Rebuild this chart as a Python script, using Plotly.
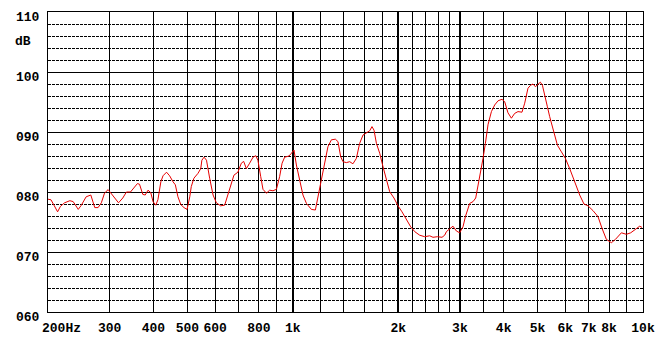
import math
import plotly.graph_objects as go

# Frequency response
freq_hz = [200, 204, 208, 213, 217, 223, 231, 236, 244, 249, 257, 265, 272, 278, 284, 290,
           297, 303, 311, 318, 327, 335, 344, 352, 360, 365, 373, 379, 386, 393, 399, 406,
           412, 420, 426, 436, 445, 455, 462, 470, 479, 489, 499, 508, 513, 522, 536, 546,
           550, 558, 567, 579, 592, 605, 622, 639, 653, 665, 679, 697, 713, 724, 737, 753,
           770, 784, 795, 810, 822, 841, 859, 878, 898, 917, 932, 948, 975, 991, 1008, 1024,
           1046, 1069, 1094, 1130, 1160, 1180, 1207, 1233, 1260, 1289, 1323, 1346, 1370, 1391,
           1422, 1454, 1485, 1519, 1552, 1587, 1623, 1658, 1683, 1706, 1733, 1771, 1810, 1851,
           1891, 1945, 1997, 2050, 2111, 2171, 2229, 2303, 2380, 2460, 2514, 2588, 2667, 2715,
           2746, 2805, 2867, 2932, 2996, 3062, 3111, 3200, 3271, 3329, 3379, 3441, 3493, 3548,
           3609, 3691, 3771, 3855, 3957, 4028, 4116, 4209, 4301, 4396, 4513, 4594, 4694, 4778,
           4852, 4928, 5014, 5093, 5161, 5240, 5334, 5415, 5571, 5697, 5848, 6003, 6176, 6383,
           6595, 6784, 6965, 7198, 7439, 7637, 7861, 8124, 8341, 8675, 8965, 9223, 9576, 9786,
           9933]
level_db = [78.8, 78.7, 77.8, 76.7, 77.6, 78.2, 78.55, 78.4, 77.1, 77.8, 79.2, 79.5, 77.4, 77.4,
            78.2, 79.8, 80.4, 79.8, 79.0, 78.2, 79.0, 80.0, 80.0, 80.8, 81.4, 81.3, 79.6, 79.5,
            80.3, 79.9, 78.4, 77.8, 78.7, 81.7, 82.7, 83.3, 82.7, 81.7, 81.2, 79.2, 77.9, 77.4,
            77.1, 79.2, 80.9, 82.3, 83.1, 83.9, 85.3, 85.8, 85.3, 82.3, 79.5, 78.2, 77.7, 77.8,
            79.5, 81.2, 82.8, 83.3, 84.8, 85.1, 83.9, 84.8, 85.8, 86.05, 85.3, 82.55, 80.45, 79.8,
            80.3, 80.2, 80.45, 82.55, 84.8, 85.8, 86.0, 86.45, 87.0, 84.5, 82.0, 79.5, 78.1, 77.1,
            77.0, 79.2, 82.0, 84.8, 87.55, 88.7, 88.8, 88.4, 85.9, 85.05, 84.9, 85.05, 84.7, 85.6,
            88.1, 89.5, 89.9, 90.2, 90.9, 90.3, 88.1, 86.45, 84.2, 82.0, 80.05, 79.0, 77.7, 76.7,
            75.3, 74.2, 73.4, 72.8, 72.55, 72.7, 72.45, 72.55, 72.45, 72.8, 73.4, 73.8, 74.3, 73.5,
            73.2, 74.2, 75.9, 78.1, 78.4, 79.0, 80.9, 83.7, 85.6, 88.1, 91.2, 93.4, 94.5, 95.2,
            95.45, 95.05, 93.2, 92.3, 93.1, 93.4, 93.3, 94.8, 97.3, 97.8, 98.0, 97.55, 98.0, 98.3,
            97.8, 95.9, 94.2, 92.55, 89.8, 87.8, 86.7, 85.6, 83.9, 81.7, 79.5, 78.0, 77.7, 76.9,
            75.9, 73.95, 72.1, 71.55, 72.1, 73.2, 72.95, 73.2, 73.95, 74.3, 74.1]

# Grid / tick definitions
x_grid = [200, 300, 400, 500, 600, 700, 800, 900, 1000, 1200, 1400, 1600, 1800, 2000,
          2200, 2400, 2600, 2800, 3000, 3500, 4000, 5000, 6000, 7000, 8000, 9000, 10000]
x_labels = {300: "300", 400: "400", 500: "500", 600: "600",
            800: "800", 1000: "1k", 2000: "2k", 3000: "3k", 4000: "4k", 5000: "5k",
            6000: "6k", 7000: "7k", 8000: "8k", 10000: "10k"}
first_label = "200Hz"
x_thick = [1000, 2000, 3000]
y_major = [60, 70, 80, 90, 100, 110]
y_major_text = ["060", "070", "080", "090", "100", "110"]
y_minor = [v for v in range(62, 110, 2) if v % 10 != 0]
y_unit = "dB"

font = dict(family="Liberation Mono", size=13, color="black", weight="bold")

fig = go.Figure()
fig.add_trace(go.Scatter(x=freq_hz, y=level_db, mode="lines",
                         line=dict(color="#e60000", width=1), hoverinfo="skip",
                         showlegend=False))
fig.add_trace(go.Scatter(x=[200, 10000], y=[60, 60], mode="lines", xaxis="x2",
                         line=dict(width=0), opacity=0, showlegend=False, hoverinfo="skip"))

xr = [math.log10(200), math.log10(10000)]

# the page body adds an 8px offset, so the figure is drawn 8px smaller
fig.update_layout(
    width=656, height=335,
    margin=dict(l=40, r=21, t=4, b=31),
    paper_bgcolor="white", plot_bgcolor="white",
    xaxis=dict(type="log", range=xr, tickmode="array", tickvals=x_grid,
               ticktext=[x_labels.get(v, "") for v in x_grid], automargin=False,
               showgrid=True, gridcolor="black", gridwidth=1,
               showline=True, mirror=True, linecolor="black", linewidth=1,
               ticks="", tickfont=font, zeroline=False, ticklabelstandoff=3),
    xaxis2=dict(type="log", range=xr, overlaying="x", tickmode="array", tickvals=x_thick,
                showgrid=True, gridcolor="black", gridwidth=2, showticklabels=False,
                automargin=False, ticks="", zeroline=False, showline=False),
    yaxis=dict(range=[60, 110], tickmode="array", tickvals=y_major, ticktext=y_major_text,
               showgrid=True, gridcolor="black", gridwidth=1, automargin=False,
               showline=True, mirror=True, linecolor="black", linewidth=1,
               ticks="", tickfont=font, zeroline=False, ticklabelstandoff=5,
               ticklabelshift=4,
               minor=dict(tickmode="array", tickvals=y_minor, showgrid=True,
                          gridcolor="black", gridwidth=1, griddash="3px,1px", ticks="")),
    annotations=[
        dict(text=y_unit, xref="paper", yref="y", x=0, y=105.1, xanchor="right",
             yanchor="middle", xshift=-15, showarrow=False, font=font),
        dict(text=first_label, xref="x", yref="paper", x=math.log10(200), y=0,
             xanchor="left", yanchor="middle", xshift=-8, yshift=-16.5,
             showarrow=False, font=font),
    ],
)

fig.write_html("out.html")
